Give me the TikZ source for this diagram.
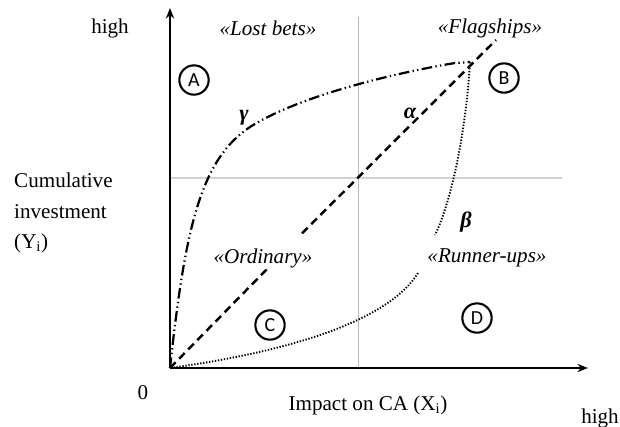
\documentclass[tikz,border=0pt]{standalone}
\usepackage{fontspec}
\setmainfont{Liberation Serif}
\newfontfamily\circfont{Carlito}
\usetikzlibrary{arrows.meta, calc}

\begin{document}
\begin{tikzpicture}[
    x=0.3mm, y=-0.3mm,
    font=\fontsize{18}{22}\selectfont,
    axisline/.style={line width=2.4pt, -{Stealth[length=9pt, width=7pt]}},
    guide/.style={line width=0.7pt, gray!55},
    alphaline/.style={line width=2.1pt, dash pattern=on 2.4mm off 1.5mm},
    gammaline/.style={line width=1.9pt,
                      dash pattern=on 3.2mm off 1mm on 0.4mm off 1mm on 0.4mm off 1mm},
    betaline/.style={line width=1.6pt, dash pattern=on 0.4mm off 0.5mm},
    quad/.style={font=\fontsize{18}{22}\selectfont\itshape, fill=white, inner sep=1pt},
    letter/.style={circle, draw, line width=1.8pt, minimum size=8.8mm, inner sep=0pt,
                   font=\fontsize{17}{17}\selectfont\circfont},
    greek/.style={font=\fontsize{19}{19}\selectfont\bfseries\itshape},
    lbl/.style={inner sep=0pt},
]
\useasboundingbox (0,0) rectangle (620,426);

% ── Axes and quadrant guides ─────────────────────────────────────────────
\coordinate (O) at (170,368);
\coordinate (P) at (470,62);
\coordinate (yTop) at (170,8);
\coordinate (xEnd) at (588,368);
\draw[guide] (358,17) -- (358,368);
\draw[guide, gray!35, line width=1.2pt] (170,178) -- (562,178);
\draw[axisline] (O) -- (yTop);
\draw[axisline] (O) -- (xEnd);

% ── Curves ───────────────────────────────────────────────────────────────
\coordinate (aEnd) at (496,40);
\draw[alphaline] (O) -- ($(O)!0.34!(P)$) ($(O)!0.44!(P)$) -- (aEnd);
\draw[gammaline] (O) .. controls (185,230) and (200,160) .. (250,127)
    .. controls (300,95) and (400,72) .. (455,63) -- (P);
\draw[betaline] (P) .. controls (466,130) and (452,200) .. (435,235)
    (418,273) .. controls (390,318) and (300,350) .. (O);

% ── Quadrant names ───────────────────────────────────────────────────────
\node[quad] (lost) at (268,28) {«Lost bets»};
\node[quad] (flag) at (490,28) {«Flagships»};
\node[quad] (ordinary) at (263,258) {«Ordinary»};
\node[quad] (runner) at (487,258) {«Runner-ups»};

\node[letter] (qA) at (194,80) {A};
\node[letter] (qB) at (504,78) {B};
\node[letter] (qC) at (270,325) {C};
\node[letter] (qD) at (477,318) {D};

\node[greek] (gam) at (244,118) {γ};
\node[greek] (alp) at (410,113) {α};
\node[greek] (bet) at (466,222) {β};

% ── Axis labels ──────────────────────────────────────────────────────────
\node[lbl] (highY) at (110,28) {high};
\node[lbl, anchor=west, align=left, font=\fontsize{18}{26}\selectfont] (ylab) at (14,213)
    {Cumulative\\investment\\(Y\textsubscript{i})};
\node[lbl] (zero) at (143,393) {0};
\node[lbl] (xlab) at (368,405) {Impact on CA (X\textsubscript{i})};
\node[lbl] (highX) at (600,418) {high};

\end{tikzpicture}
\end{document}
